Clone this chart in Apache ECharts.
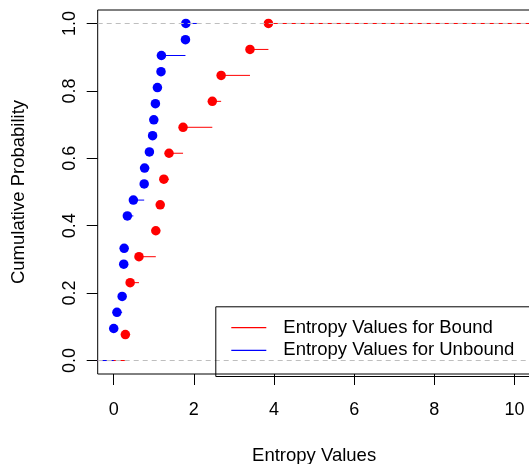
<!DOCTYPE html>
<html>
<head>
<meta charset="utf-8">
<script src="https://cdn.jsdelivr.net/npm/echarts@6/dist/echarts.min.js"></script>
<style>
  html, body { margin: 0; padding: 0; background: #fff; }
  #chart { width: 529px; height: 464px; }
</style>
</head>
<body>
<div id="chart"></div>
<script>
// 数据
const boundX = [0.29, 0.41, 0.63, 1.05, 1.16, 1.25, 1.38, 1.73, 2.46, 2.68, 3.40, 3.86];
const boundP = [0.077, 0.231, 0.308, 0.385, 0.462, 0.538, 0.615, 0.692, 0.769, 0.846, 0.923, 1.0];
const unboundX = [0.00, 0.08, 0.21, 0.25, 0.26, 0.34, 0.49, 0.76, 0.77, 0.89, 0.97, 1.00, 1.04, 1.09, 1.18, 1.19, 1.79, 1.80];
const unboundP = [0.095, 0.143, 0.190, 0.286, 0.333, 0.429, 0.476, 0.524, 0.571, 0.619, 0.667, 0.714, 0.762, 0.810, 0.857, 0.905, 0.952, 1.0];
const unboundTailEnd = 2.12;
const xTicks = [0, 2, 4, 6, 8, 10];
const yTicks = [0, 0.2, 0.4, 0.6, 0.8, 1.0];
const refLines = [0, 1];

const X_MIN = -0.4;
const X_MAX = 10.4;
const FONT = '"Liberation Sans", Arial, sans-serif';

const boundName = 'Entropy Values for Bound';
const unboundName = 'Entropy Values for Unbound';

// 阶梯线段: [x0, x1, p]
function segments(xs, ps, tailEnd) {
    const out = [[X_MIN, xs[0], 0]];
    for (let i = 0; i < xs.length; i++) {
        out.push([xs[i], i + 1 < xs.length ? xs[i + 1] : tailEnd, ps[i]]);
    }
    return out;
}

function stepSeries(name, color, data) {
    return {
        name: name,
        type: 'custom',
        clip: true,
        itemStyle: { color: color },
        encode: { x: [0, 1], y: 2 },
        data: data,
        z: 2,
        renderItem: function (params, api) {
            const a = api.coord([api.value(0), api.value(2)]);
            const b = api.coord([api.value(1), api.value(2)]);
            return {
                type: 'line',
                shape: { x1: a[0], y1: a[1], x2: b[0], y2: b[1] },
                style: { stroke: color, lineWidth: 1 },
            };
        },
    };
}

function pointSeries(name, color, xs, ps) {
    return {
        name: name,
        type: 'scatter',
        symbol: 'circle',
        symbolSize: 9.5,
        itemStyle: { color: color, opacity: 1 },
        data: xs.map((x, i) => [x, ps[i]]),
        z: 3,
    };
}

const chart = echarts.init(document.getElementById('chart'));
chart.setOption({
    animation: false,
    backgroundColor: '#fff',
    grid: {
        left: 97.7,
        right: -1.5,
        top: 10,
        bottom: 90,
        outerBoundsMode: 'none',
        containLabel: false,
        show: true,
        borderColor: '#000',
        borderWidth: 1,
        backgroundColor: 'transparent',
    },
    xAxis: {
        type: 'value',
        min: X_MIN,
        max: X_MAX,
        name: 'Entropy Values',
        nameLocation: 'middle',
        nameGap: 72,
        nameTextStyle: { color: '#000', fontSize: 18.5, fontFamily: FONT },
        axisLine: { show: false, onZero: false },
        splitLine: { show: false },
        axisTick: {
            show: true,
            length: 11,
            customValues: xTicks,
            lineStyle: { color: '#000', width: 1 },
        },
        axisLabel: {
            customValues: xTicks,
            margin: 27,
            color: '#000',
            fontSize: 18,
            fontFamily: FONT,
            formatter: v => String(v),
        },
    },
    yAxis: {
        type: 'value',
        min: -0.04,
        max: 1.04,
        name: 'Cumulative Probability',
        nameLocation: 'middle',
        nameGap: 69,
        nameRotate: 90,
        nameTextStyle: { color: '#000', fontSize: 18.5, fontFamily: FONT },
        axisLine: { show: false, onZero: false },
        splitLine: { show: false },
        axisTick: {
            show: true,
            length: 11,
            customValues: yTicks,
            lineStyle: { color: '#000', width: 1 },
        },
        axisLabel: {
            customValues: yTicks,
            rotate: 90,
            margin: 19,
            color: '#000',
            fontSize: 18,
            fontFamily: FONT,
            formatter: v => v.toFixed(1),
        },
    },
    legend: {
        orient: 'vertical',
        left: 213.3,
        top: 304.3,
        padding: [13.4, 10, 13.4, 18],
        itemGap: 2.6,
        itemWidth: 35,
        itemHeight: 1.2,
        selectedMode: false,
        backgroundColor: 'transparent',
        textStyle: {
            color: '#000',
            fontSize: 18.5,
            fontFamily: FONT,
            lineHeight: 20,
            padding: [0, 0, 0, 12],
        },
        itemStyle: { borderWidth: 0 },
        data: [
            { name: boundName, icon: 'rect' },
            { name: unboundName, icon: 'rect' },
        ],
    },
    // 图例边框 (bottomright, runs past the plot edge)
    graphic: [
        {
            type: 'rect',
            left: 213.3,
            top: 304.3,
            shape: { width: 330, height: 69.7 },
            style: { fill: 'none', stroke: '#000', lineWidth: 1 },
            silent: true,
            z: 10,
        },
    ],
    series: [
        stepSeries(boundName, '#ff0000', segments(boundX, boundP, X_MAX)),
        stepSeries(unboundName, '#0000ff', segments(unboundX, unboundP, unboundTailEnd)),
        pointSeries(boundName, '#ff0000', boundX, boundP),
        pointSeries(unboundName, '#0000ff', unboundX, unboundP),
        {
            // 参考虚线 y=0, y=1
            type: 'scatter',
            data: [],
            z: 4,
            markLine: {
                silent: true,
                symbol: ['none', 'none'],
                label: { show: false },
                lineStyle: { color: '#bebebe', type: [5, 4], width: 1 },
                data: refLines.map(v => ({ yAxis: v })),
            },
        },
    ],
});
</script>
</body>
</html>
